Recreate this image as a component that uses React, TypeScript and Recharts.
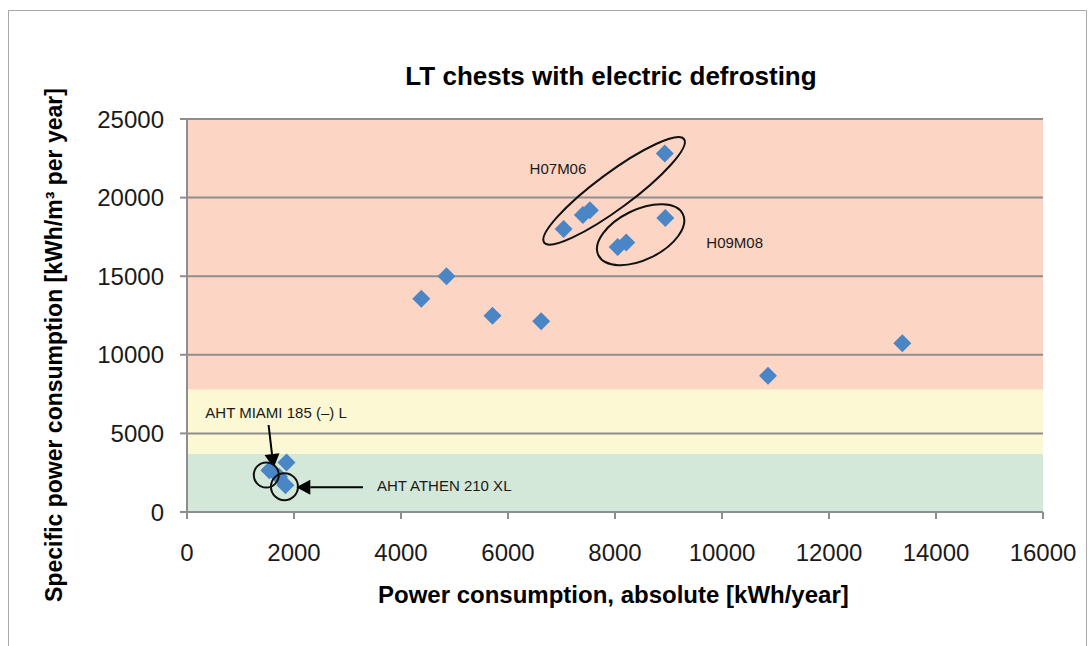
import {
  ScatterChart,
  Scatter,
  XAxis,
  YAxis,
  ReferenceArea,
  ReferenceLine,
  ReferenceDot,
} from 'recharts';

const title = 'LT chests with electric defrosting';
const xLabel = 'Power consumption, absolute [kWh/year]';
const yLabel = 'Specific power consumption [kWh/m³ per year]';

const xTicks = [0, 2000, 4000, 6000, 8000, 10000, 12000, 14000, 16000];
const yTicks = [0, 5000, 10000, 15000, 20000, 25000];

// measured chests (absolute kWh/year, specific kWh/m³ per year)
const powerAbs = [8930, 7040, 7400, 7530, 8940, 8050, 8210, 4850, 4380, 5710, 6620, 13370, 10860, 1540, 1860, 1720, 1840];
const powerSpec = [22800, 18000, 18900, 19200, 18700, 16850, 17150, 15000, 13560, 12480, 12130, 10740, 8660, 2650, 3150, 2250, 1700];

// efficiency bands: lower / upper limit
const bandFrom = [0, 3700, 7800];
const bandTo = [3700, 7800, 25000];
const bandColors = ['#d3e8d9', '#fbf8d3', '#fcd5c5'];

// model groups (ellipses)
const groupNames = ['H07M06', 'H09M08'];
const groupCenterX = [7983, 8479];
const groupCenterY = [20430, 17640];
const groupLabelX = [6404, 9707];
const groupLabelY = [21860, 17130];

// highlighted models (circle + arrow)
const modelNames = ['AHT MIAMI 185 (–) L', 'AHT ATHEN 210 XL'];
const modelX = [1482, 1822];
const modelY = [2354, 1610];
const modelLabelX = [342, 3551];
const modelLabelY = [6298, 1654];
const arrowFromX = [1525, 3290];
const arrowFromY = [5534, 1571];
const arrowToX = [1619, 2043];
const arrowToY = [2799, 1571];

const FONT = '"Liberation Sans", Arial, sans-serif';
const GRID = '#8e8e8e';

const ellipseStyle = [
  { rx: 87, ry: 18, rot: -36.5 },
  { rx: 47, ry: 25, rot: -26 },
];

const chartData = powerAbs.map((x, i) => ({ x, y: powerSpec[i] }));

const Diamond = (props: any) => {
  const { cx, cy } = props;
  const h = 9;
  return (
    <polygon
      points={`${cx},${cy - h} ${cx + h},${cy} ${cx},${cy + h} ${cx - h},${cy}`}
      fill="#4a86c6"
    />
  );
};

const textShape = (label: string) => (p: any) => (
  <text
    x={p.cx}
    y={p.cy}
    dominantBaseline="central"
    textAnchor="start"
    fontSize={15}
    fontFamily={FONT}
    fill="#1a1a1a"
  >
    {label}
  </text>
);

// arrow with a filled head at the second point
const arrowShape = (p: any) => {
  const { x1, y1, x2, y2 } = p;
  const dx = x2 - x1;
  const dy = y2 - y1;
  const len = Math.sqrt(dx * dx + dy * dy) || 1;
  const ux = dx / len;
  const uy = dy / len;
  const head = 14;
  const half = 7.5;
  const bx = x2 - ux * head;
  const by = y2 - uy * head;
  return (
    <g>
      <line x1={x1} y1={y1} x2={bx} y2={by} stroke="#000" strokeWidth={2} />
      <polygon
        points={`${x2},${y2} ${bx - uy * half},${by + ux * half} ${bx + uy * half},${by - ux * half}`}
        fill="#000"
      />
    </g>
  );
};

export default function App() {
  return (
    <div
      style={{
        position: 'absolute',
        left: 0,
        top: 0,
        width: 1092,
        height: 646,
        overflow: 'hidden',
        background: '#fff',
        fontFamily: FONT,
      }}
    >
      <div
        style={{
          position: 'absolute',
          left: 8,
          top: 10,
          width: 1077,
          height: 700,
          border: '1.5px solid #a8a8a8',
        }}
      />
      <div
        style={{
          position: 'absolute',
          left: 311,
          top: 61,
          width: 600,
          lineHeight: '30px',
          fontSize: 26,
          fontWeight: 'bold',
          textAlign: 'center',
          color: '#000',
        }}
      >
        {title}
      </div>
      <div
        style={{
          position: 'absolute',
          left: 378,
          top: 580,
          lineHeight: '30px',
          fontSize: 24,
          fontWeight: 'bold',
          whiteSpace: 'nowrap',
          color: '#000',
        }}
      >
        {xLabel}
      </div>
      <div
        style={{
          position: 'absolute',
          left: 54 - 300,
          top: 345 - 15,
          width: 600,
          height: 30,
          lineHeight: '30px',
          fontSize: 23,
          fontWeight: 'bold',
          textAlign: 'center',
          whiteSpace: 'nowrap',
          color: '#000',
          transform: 'rotate(-90deg)',
        }}
      >
        {yLabel}
      </div>
      <div style={{ position: 'absolute', left: 0, top: 0 }}>
        <ScatterChart
          width={1092}
          height={646}
          margin={{ top: 119, right: 49, bottom: 74, left: 0 }}
        >
          {bandFrom.map((from, i) => (
            <ReferenceArea
              key={`band-${i}`}
              y1={from}
              y2={bandTo[i]}
              fill={bandColors[i]}
              fillOpacity={1}
              stroke="none"
            />
          ))}
          {yTicks.map((t) => (
            <ReferenceLine key={`grid-${t}`} y={t} stroke={GRID} strokeWidth={2} />
          ))}
          <XAxis
            type="number"
            dataKey="x"
            domain={[0, 16000]}
            ticks={xTicks}
            interval={0}
            height={60}
            tickSize={7}
            tickMargin={25}
            axisLine={{ stroke: GRID, strokeWidth: 2 }}
            tickLine={{ stroke: GRID, strokeWidth: 2 }}
            tick={{ fontSize: 24, fill: '#1a1a1a', fontFamily: FONT }}
          />
          <YAxis
            type="number"
            dataKey="y"
            domain={[0, 25000]}
            ticks={yTicks}
            interval={0}
            width={187}
            tickSize={7}
            tickMargin={16}
            axisLine={{ stroke: GRID, strokeWidth: 2 }}
            tickLine={{ stroke: GRID, strokeWidth: 2 }}
            tick={{ fontSize: 24, fill: '#1a1a1a', fontFamily: FONT }}
          />
          <Scatter data={chartData} shape={Diamond} isAnimationActive={false} />
          {groupNames.map((name, i) => (
            <ReferenceDot
              key={`ell-${name}`}
              x={groupCenterX[i]}
              y={groupCenterY[i]}
              r={1}
              shape={(p: any) => (
                <ellipse
                  cx={p.cx}
                  cy={p.cy}
                  rx={ellipseStyle[i].rx}
                  ry={ellipseStyle[i].ry}
                  transform={`rotate(${ellipseStyle[i].rot} ${p.cx} ${p.cy})`}
                  fill="none"
                  stroke="#111"
                  strokeWidth={2}
                />
              )}
            />
          ))}
          {groupNames.map((name, i) => (
            <ReferenceDot
              key={`lbl-${name}`}
              x={groupLabelX[i]}
              y={groupLabelY[i]}
              r={1}
              shape={textShape(name)}
            />
          ))}
          {modelNames.map((name, i) => (
            <ReferenceDot
              key={`circ-${name}`}
              x={modelX[i]}
              y={modelY[i]}
              r={1}
              shape={(p: any) => (
                <circle cx={p.cx} cy={p.cy} r={i === 0 ? 12.5 : 13.5} fill="none" stroke="#111" strokeWidth={2} />
              )}
            />
          ))}
          {modelNames.map((name, i) => (
            <ReferenceLine
              key={`arr-${name}`}
              segment={[
                { x: arrowFromX[i], y: arrowFromY[i] },
                { x: arrowToX[i], y: arrowToY[i] },
              ]}
              shape={arrowShape}
            />
          ))}
          {modelNames.map((name, i) => (
            <ReferenceDot
              key={`mlbl-${name}`}
              x={modelLabelX[i]}
              y={modelLabelY[i]}
              r={1}
              shape={textShape(name)}
            />
          ))}
        </ScatterChart>
      </div>
    </div>
  );
}
